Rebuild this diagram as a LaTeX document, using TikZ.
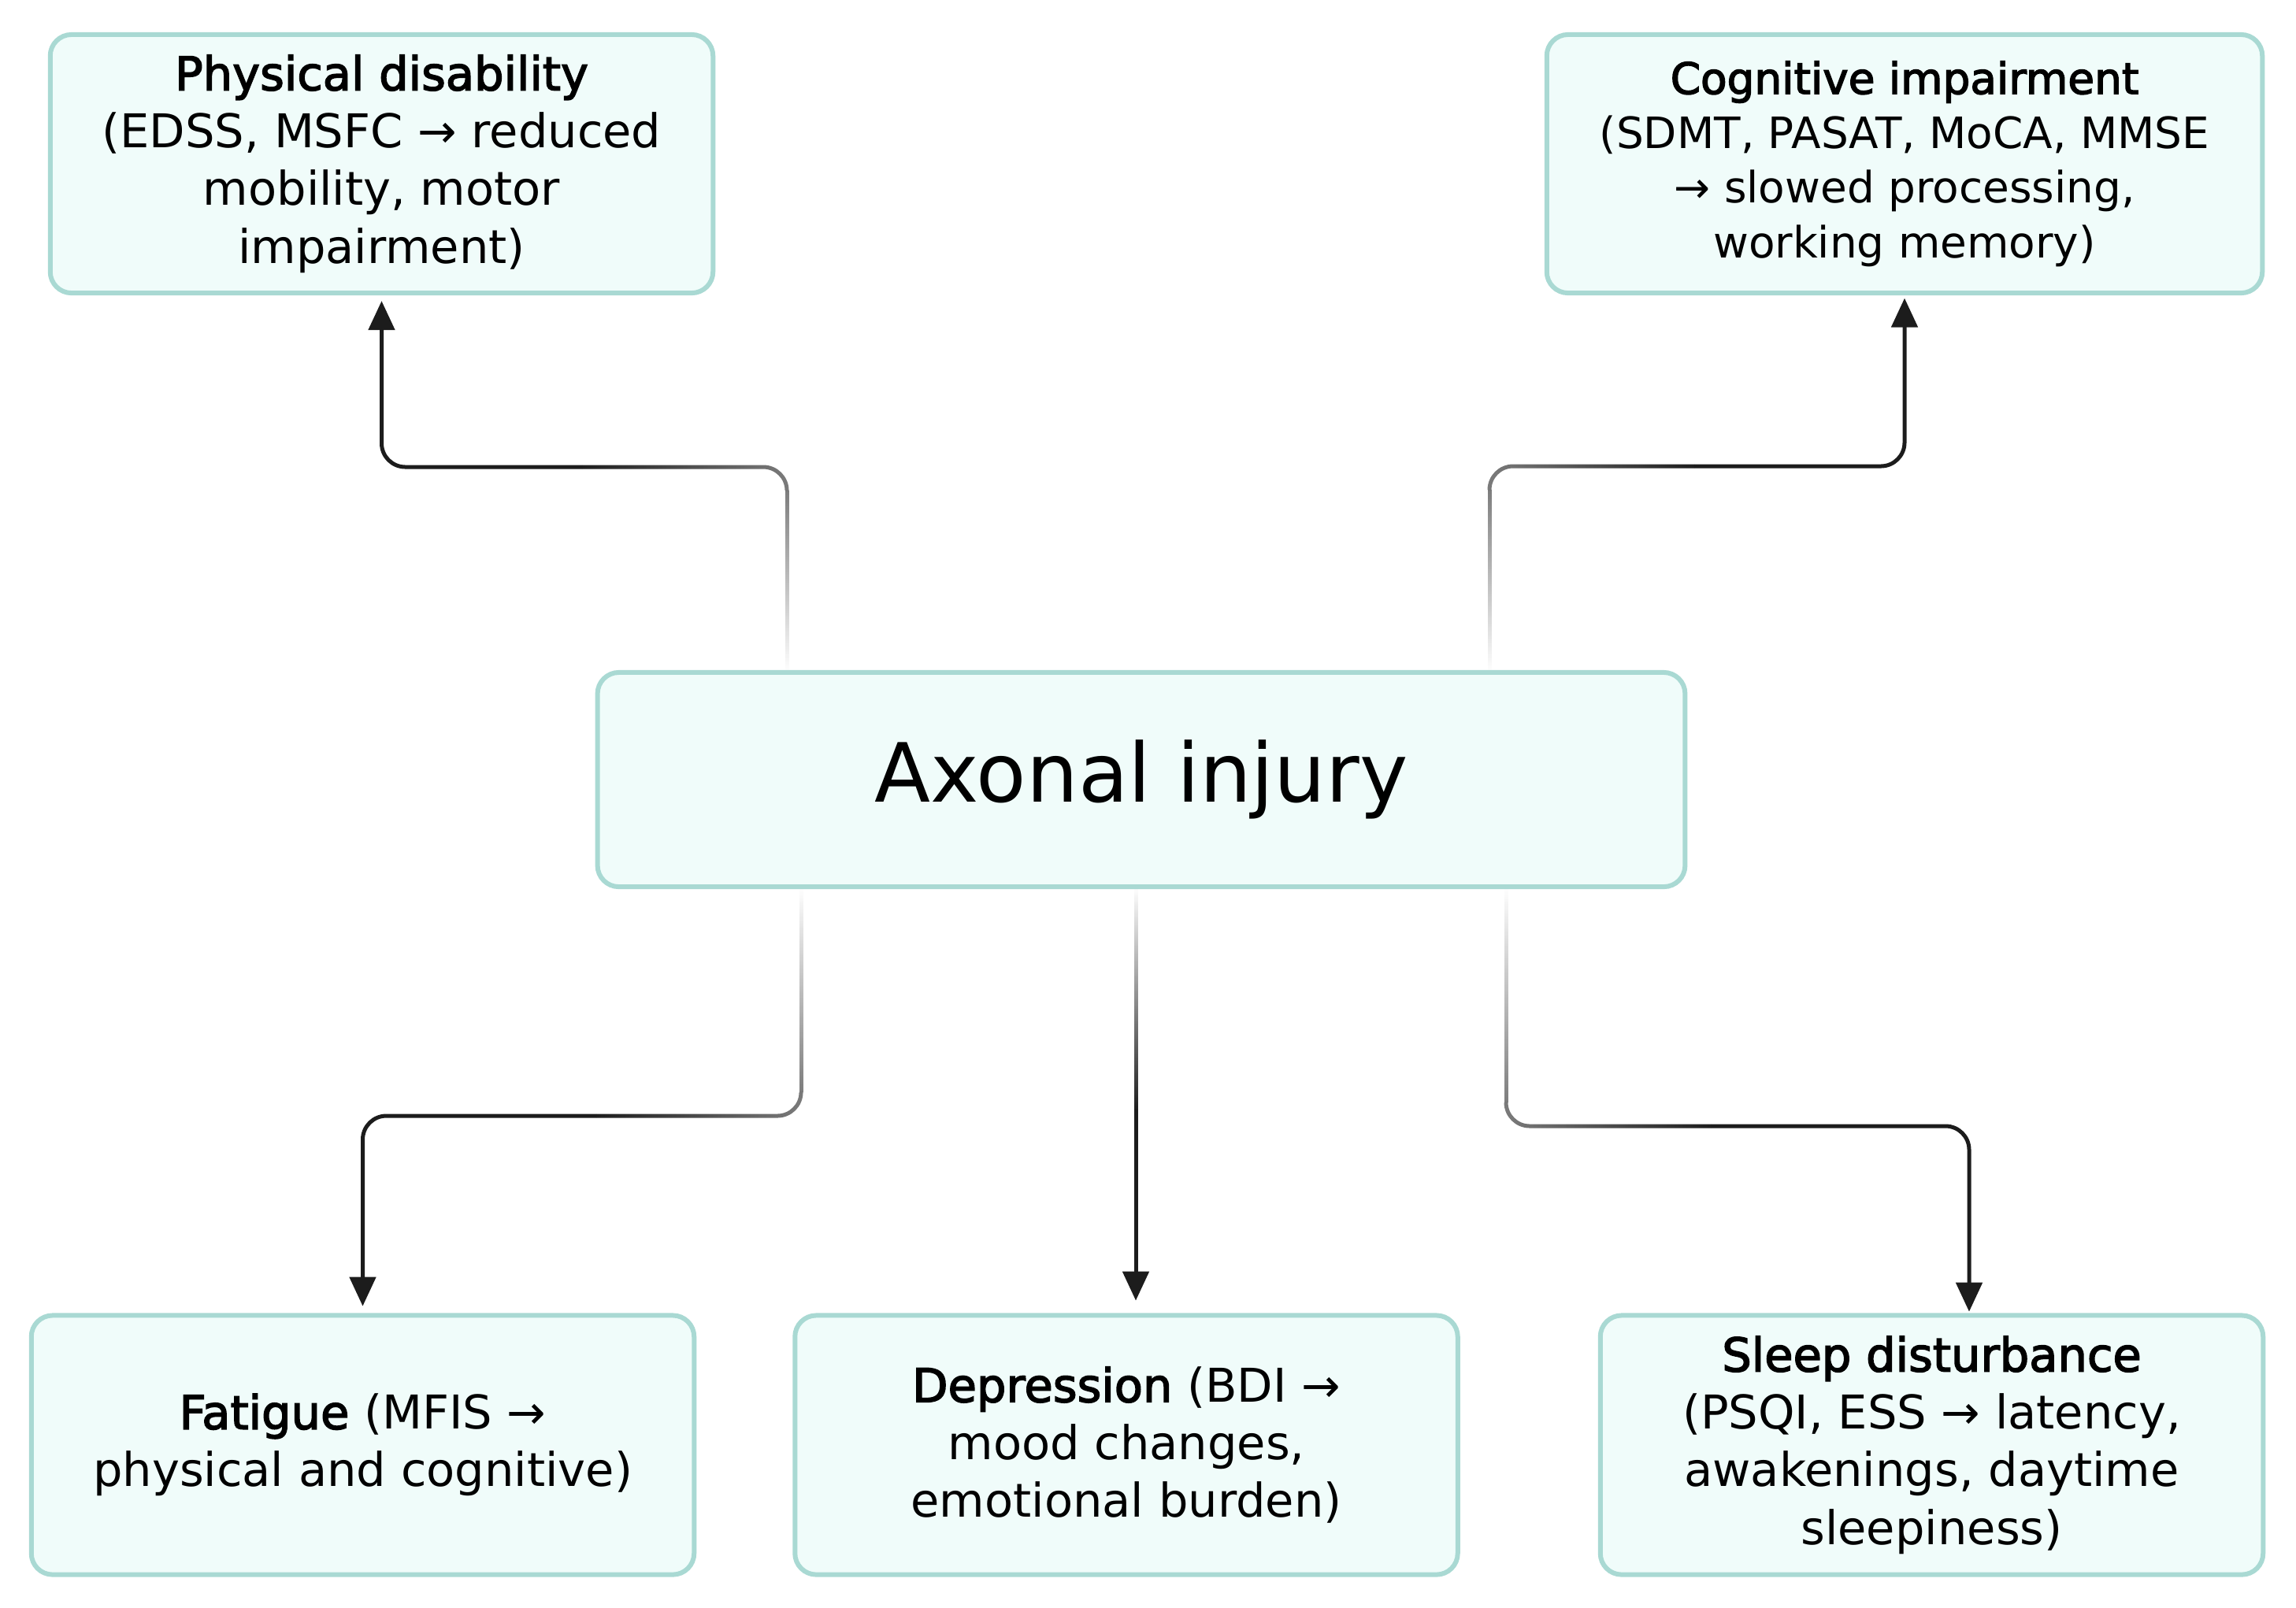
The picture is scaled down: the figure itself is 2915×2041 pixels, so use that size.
\documentclass[tikz,border=0pt]{standalone}
\usepackage{fontspec}
\setmainfont{DejaVu Sans}[BoldFont={DejaVu Sans},BoldFeatures={FakeBold=2.6}]
\usepackage{tikz}
\usetikzlibrary{arrows.meta,positioning,calc,fadings}
\definecolor{boxline}{HTML}{A9D9D3}
\definecolor{boxfill}{HTML}{F0FCFA}
\definecolor{linkgray}{HTML}{1C1C1C}

% fadings for the connector tails
\tikzfading[name=riseup, bottom color=transparent!100, middle color=transparent!80, top color=transparent!42]
\tikzfading[name=dropdown, top color=transparent!100, middle color=transparent!80, bottom color=transparent!42]
\tikzfading[name=dropfull, top color=transparent!100, middle color=transparent!65, bottom color=transparent!0]
\tikzfading[name=toleft, right color=transparent!42, left color=transparent!0]
\tikzfading[name=toright, left color=transparent!42, right color=transparent!0]

\begin{document}
\begin{tikzpicture}[x=0.01cm, y=-0.01cm,
  box/.style={draw=boxline, fill=boxfill, line width=0.06cm, rounded corners=0.27cm,
    align=center, inner sep=0pt, font=\fontsize{16.8}{20.8}\selectfont},
  tail/.style={draw=linkgray, line width=0.05cm, rounded corners=0.3cm},
  link/.style={tail, -{Triangle[length=0.37cm, width=0.33cm]}}]
\useasboundingbox (0,0) rectangle (2915,2041);
% Centre
\node[box, minimum width=13.8cm, minimum height=2.72cm, font=\fontsize{29.5}{35}\selectfont] (axon) at (1449,990) {Axonal injury};
% Top row
\node[box, minimum width=8.41cm, minimum height=3.28cm] (phys) at (484.5,208)
  {\textbf{Physical disability}\\(EDSS, MSFC → reduced\\mobility, motor\\impairment)};
\node[box, minimum width=9.08cm, minimum height=3.28cm, font=\fontsize{15.6}{19.7}\selectfont] (cog) at (2418,208)
  {\textbf{Cognitive impairment}\\(SDMT, PASAT, MoCA, MMSE\\→ slowed processing,\\working memory)};
% Bottom row
\node[box, minimum width=8.41cm, minimum height=3.29cm] (fat) at (460.5,1835)
  {\textbf{Fatigue} (MFIS →\\physical and cognitive)};
\node[box, minimum width=8.41cm, minimum height=3.29cm] (dep) at (1430,1835)
  {\textbf{Depression} (BDI →\\mood changes,\\emotional burden)};
\node[box, minimum width=8.41cm, minimum height=3.29cm] (sleep) at (2452.5,1835)
  {\textbf{Sleep disturbance}\\(PSQI, ESS → latency,\\awakenings, daytime\\sleepiness)};
% Physical disability (moves widen the fading box)
\coordinate (pa) at (999,623);
\coordinate (pb) at (739,593);
\draw[tail, path fading=riseup] (axon.north -| pa) -- (pa) ++(-20,0) ++(40,0);
\draw[tail, path fading=toleft] (pa) |- (pb);
\draw[link, shorten >=2pt] (pb) -| (phys.south);
% Cognitive impairment
\coordinate (ca) at (1891,622);
\coordinate (cb) at (2151,592);
\draw[tail, path fading=riseup] (axon.north -| ca) -- (ca) ++(-20,0) ++(40,0);
\draw[tail, path fading=toright] (ca) |- (cb);
\draw[link, shorten >=1pt] (cb) -| (cog.south);
% Fatigue
\coordinate (fa) at (1017,1387);
\coordinate (fb) at (757,1417);
\draw[tail, path fading=dropdown] (axon.south -| fa) -- (fa) ++(-20,0) ++(40,0);
\draw[tail, path fading=toleft] (fa) |- (fb);
\draw[link, shorten >=2.5pt] (fb) -| (fat.north);
% Depression
\coordinate (da) at (1442,1408);
\draw[tail, path fading=dropfull] (axon.south -| da) -- (da) ++(-20,0) ++(40,0);
\draw[link, shorten >=4.5pt] (da) -- (da |- dep.north);
% Sleep disturbance
\coordinate (sa) at (1912,1400);
\coordinate (sb) at (2172,1430);
\coordinate (sc) at (2500,1430);
\draw[tail, path fading=dropdown] (axon.south -| sa) -- (sa) ++(-20,0) ++(40,0);
\draw[tail, path fading=toright] (sa) |- (sb);
\draw[link, shorten >=0.5pt] (sb) -| (sc |- sleep.north);
\end{tikzpicture}
\end{document}
